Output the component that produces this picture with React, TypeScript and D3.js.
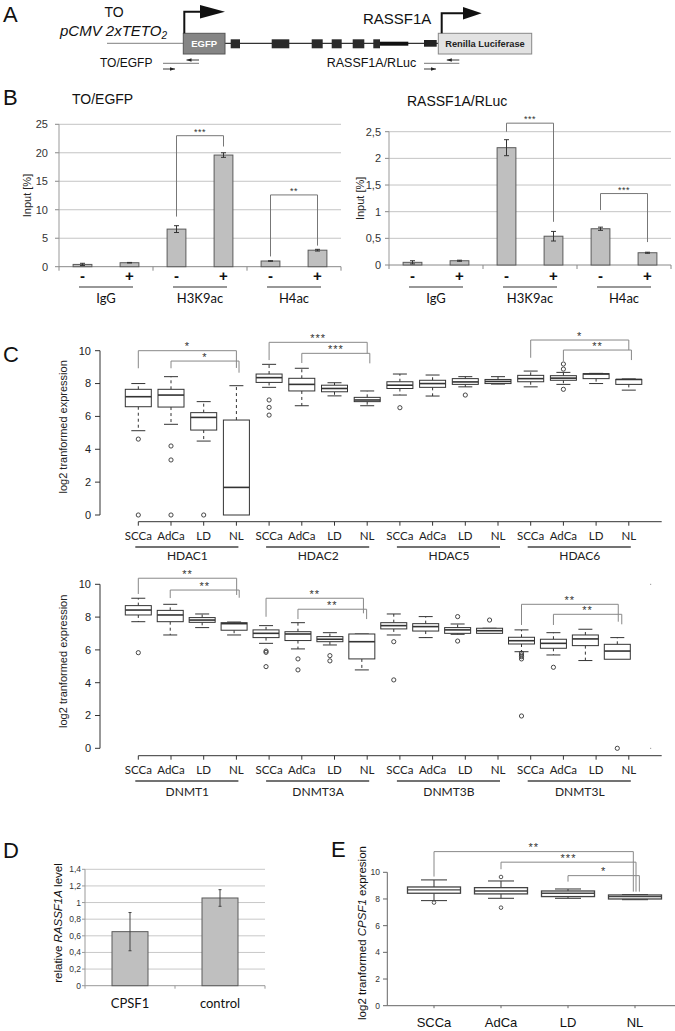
import React from 'react';
import * as d3 from 'd3';

const ARIAL = '"Liberation Sans", Arial, Helvetica, sans-serif';
const CAL = 'Lato, "Open Sans", sans-serif';

// ---------------- Panel B data ----------------
const chipGroups = ['IgG', 'H3K9ac', 'H4ac'];
const chipConds = ['-', '+'];
const egfpMean = [0.4, 0.7, 6.6, 19.6, 1.0, 2.9];
const egfpErr = [0.2, 0.05, 0.6, 0.4, 0.05, 0.15];
const egfpTicks = [0, 5, 10, 15, 20, 25];
const rlucMean = [0.05, 0.08, 2.2, 0.54, 0.68, 0.23];
const rlucErr = [0.03, 0.01, 0.15, 0.09, 0.03, 0.01];
const rlucTicks = [0, 0.5, 1, 1.5, 2, 2.5];

type Bracket = { a: number; b: number; yl: number; yt: number; yr: number; label: string; off?: number };

const egfpBrackets: Bracket[] = [
  { a: 2, b: 3, yl: 8.8, yt: 23.0, yr: 21.1, label: '***' },
  { a: 4, b: 5, yl: 1.8, yt: 12.6, yr: 3.7, label: '**' },
];
const rlucBrackets: Bracket[] = [
  { a: 2, b: 3, yl: 2.5, yt: 2.66, yr: 0.81, label: '***' },
  { a: 4, b: 5, yl: 1.03, yt: 1.34, yr: 0.43, label: '***' },
];

// ---------------- Panel C data ----------------
const subtypes = ['SCCa', 'AdCa', 'LD', 'NL'];
const hdacGenes = ['HDAC1', 'HDAC2', 'HDAC5', 'HDAC6'];
const dnmtGenes = ['DNMT1', 'DNMT3A', 'DNMT3B', 'DNMT3L'];
const exprTicks = [0, 2, 4, 6, 8, 10];
// [lower whisker, Q1, median, Q3, upper whisker]
const hdacStats = [
  [5.13, 6.59, 7.2, 7.65, 8.0],
  [5.52, 6.57, 7.3, 7.65, 8.42],
  [4.5, 5.17, 5.94, 6.23, 6.9],
  [0, 0, 1.68, 5.78, 7.87],
  [7.77, 8.07, 8.36, 8.58, 9.17],
  [6.65, 7.55, 7.95, 8.32, 8.93],
  [7.25, 7.5, 7.7, 7.9, 8.05],
  [6.65, 6.9, 7.0, 7.16, 7.55],
  [7.3, 7.7, 7.9, 8.11, 8.58],
  [7.24, 7.77, 8.0, 8.2, 8.52],
  [7.8, 7.95, 8.1, 8.3, 8.42],
  [7.97, 8.0, 8.13, 8.25, 8.42],
  [7.8, 8.11, 8.3, 8.5, 8.76],
  [7.95, 8.2, 8.33, 8.48, 8.68],
  [8.0, 8.3, 8.58, 8.6, 8.62],
  [7.6, 7.95, 8.25, 8.25, 8.28],
];
const hdacOutliers = [
  [4.62, 0], [4.2, 3.35, 0], [0], [],
  [7.0, 6.55, 6.08], [], [], [],
  [6.53], [], [7.3], [],
  [], [9.19, 8.88, 7.65], [], [],
];
const hdacBrackets: Bracket[] = [
  { a: 0, b: 3, yl: 8.93, yt: 10.0, yr: 8.95, label: '*', off: 0 },
  { a: 1, b: 3, yl: 8.93, yt: 9.37, yr: 8.66, label: '*', off: 0.08 },
  { a: 4, b: 7, yl: 9.43, yt: 10.51, yr: 9.84, label: '***', off: 0 },
  { a: 5, b: 7, yl: 9.25, yt: 9.84, yr: 9.23, label: '***', off: 0.08 },
  { a: 12, b: 15, yl: 9.57, yt: 10.65, yr: 10.04, label: '*', off: 0 },
  { a: 13, b: 15, yl: 9.37, yt: 10.04, yr: 9.43, label: '**', off: 0.08 },
];

const dnmtStats = [
  [7.72, 8.13, 8.43, 8.7, 9.15],
  [6.91, 7.72, 8.13, 8.41, 8.78],
  [7.36, 7.68, 7.82, 7.97, 8.19],
  [6.91, 7.2, 7.6, 7.66, 7.7],
  [6.4, 6.75, 7.01, 7.22, 7.48],
  [6.06, 6.57, 6.97, 7.11, 7.66],
  [6.3, 6.5, 6.65, 6.81, 7.05],
  [4.78, 5.45, 6.5, 6.97, 6.97],
  [6.91, 7.28, 7.48, 7.66, 8.19],
  [6.75, 7.15, 7.42, 7.6, 8.03],
  [6.95, 7.01, 7.22, 7.36, 7.58],
  [7.01, 7.01, 7.17, 7.32, 7.32],
  [5.89, 6.36, 6.56, 6.77, 7.22],
  [5.69, 6.1, 6.4, 6.65, 7.05],
  [5.35, 6.26, 6.67, 6.91, 7.26],
  [5.43, 5.43, 5.93, 6.34, 6.75],
];
const dnmtOutliers = [
  [5.83], [], [], [],
  [5.93, 5.85, 4.98], [5.45, 4.78], [5.65, 5.33], [],
  [6.5, 4.17], [], [8.03, 6.54], [7.82],
  [5.8, 5.69, 5.59, 5.45, 1.97], [4.94], [], [0],
];
const dnmtBrackets: Bracket[] = [
  { a: 0, b: 3, yl: 9.41, yt: 10.37, yr: 9.35, label: '**', off: 0.08 },
  { a: 1, b: 3, yl: 9.16, yt: 9.65, yr: 9.18, label: '**', off: 0.16 },
  { a: 4, b: 7, yl: 8.02, yt: 9.15, yr: 8.23, label: '**', off: 0.05 },
  { a: 5, b: 7, yl: 7.88, yt: 8.48, yr: 7.88, label: '**', off: 0.15 },
  { a: 12, b: 15, yl: 7.52, yt: 8.78, yr: 7.72, label: '**', off: 0.03 },
  { a: 13, b: 15, yl: 7.52, yt: 8.17, yr: 7.56, label: '**', off: 0.14 },
];

// ---------------- Panel D data ----------------
const kdGroups = ['CPSF1', 'control'];
const kdMean = [0.65, 1.055];
const kdErr = [0.23, 0.1];
const kdTicks = [0, 0.2, 0.4, 0.6, 0.8, 1, 1.2, 1.4];

// ---------------- Panel E data ----------------
const cpsfStats = [
  [7.88, 8.43, 8.68, 8.9, 9.43],
  [8.05, 8.38, 8.6, 8.85, 9.35],
  [8.05, 8.18, 8.43, 8.6, 8.75],
  [7.95, 8.0, 8.18, 8.3, 8.33],
];
const cpsfOutliers = [[7.73], [9.65, 7.35], [], []];
const cpsfTicks = [0, 2, 4, 6, 8, 10];
const cpsfBrackets: Bracket[] = [
  { a: 0, b: 3, yl: 9.68, yt: 11.55, yr: 8.55, label: '**', off: -0.025 },
  { a: 1, b: 3, yl: 10.23, yt: 10.76, yr: 8.55, label: '***', off: 0.015 },
  { a: 2, b: 3, yl: 9.3, yt: 9.75, yr: 8.55, label: '*', off: 0.065 },
];

const comma = (v: number) => String(v).replace('.', ',');

// ---------------- Panel A ----------------
function PrimerPair({ x1, x2 }: { x1: number; x2: number }) {
  return (
    <g stroke="#222" strokeWidth={0.9} fill="#222">
      <line x1={x2 - 12.5} x2={x2} y1={60} y2={60} />
      <polygon points={`${x2 - 12.5},60 ${x2 - 7.5},58.3 ${x2 - 7.5},61.7`} strokeWidth={0} />
      <line x1={x1} x2={x2} y1={63.3} y2={63.3} stroke="#666" />
      <line x1={x1} x2={x1 + 12} y1={69} y2={69} />
      <polygon points={`${x1 + 12},69 ${x1 + 7},67.3 ${x1 + 7},70.7`} strokeWidth={0} />
    </g>
  );
}

function PanelA() {
  const exons = [
    [230.7, 240], [271.7, 289.3], [311.7, 322.7], [331.7, 341.7], [352.7, 364.3], [373.3, 380],
  ];
  return (
    <g>
      <text x={3} y={21.5} fontSize={22} fill="#111">A</text>
      <text x={114} y={16.7} fontSize={14} textAnchor="middle" fill="#111">TO</text>
      <text x={60} y={36} fontSize={15} fontStyle="italic" fill="#111">
        pCMV 2xTETO<tspan fontSize={10} dy={3}>2</tspan>
      </text>
      <line x1={107} x2={183.3} y1={43.3} y2={43.3} stroke="#999" strokeWidth={1.3} />
      <line x1={225} x2={438.3} y1={43.3} y2={43.3} stroke="#333" strokeWidth={1.3} />
      {exons.map(([a, b], i) => (
        <rect key={i} x={a} y={39.3} width={b - a} height={9} fill="#2b2b2b" />
      ))}
      <rect x={380} y={41.7} width={28.3} height={4} fill="#111" />
      <rect x={424} y={40} width={12.7} height={6.7} fill="#222" />
      {/* EGFP box */}
      <rect x={183.3} y={33.3} width={41.7} height={20.7} fill="#858585" stroke="#555" strokeWidth={1} />
      <text x={204.2} y={47} fontSize={9.5} fontWeight="bold" fill="#fff" textAnchor="middle">EGFP</text>
      {/* Renilla box */}
      <rect x={438.3} y={33.3} width={93.4} height={20.7} fill="#e2e2e2" stroke="#888" strokeWidth={1} />
      <text x={485} y={47} fontSize={9.3} fontWeight="bold" fill="#222" textAnchor="middle">Renilla Luciferase</text>
      {/* promoters */}
      <polyline points="184.3,33.3 184.3,11.7 201,11.7" fill="none" stroke="#111" strokeWidth={2} />
      <polygon points="200,5 225,11.7 200,18.4" fill="#111" />
      <polyline points="441.7,33.3 441.7,13.3 464,13.3" fill="none" stroke="#111" strokeWidth={2} />
      <polygon points="463,7 481.7,13.3 463,19.6" fill="#111" />
      <text x={363} y={24} fontSize={15} fill="#111">RASSF1A</text>
      <text x={100} y={66.7} fontSize={12} fill="#111">TO/EGFP</text>
      <text x={326.7} y={66.7} fontSize={12.5} fill="#111">RASSF1A/RLuc</text>
      <PrimerPair x1={163} x2={199} />
      <PrimerPair x1={424} x2={459.3} />
    </g>
  );
}

// ---------------- Panel B ----------------
function ChipPanel(props: {
  left: number; right: number; top: number; bottom: number; max: number; ticks: number[];
  means: number[]; errs: number[]; brackets: Bracket[]; title: string; titleX: number; titleY: number;
  yTitleX: number; tickLabelX: number;
}) {
  const { left, right, top, bottom, max, ticks, means, errs, brackets, title, titleX, titleY, yTitleX, tickLabelX } = props;
  const x = d3.scaleBand<string>().domain(chipGroups).range([left, right]);
  const bw = x.bandwidth();
  const sub = d3.scalePoint<string>().domain(chipConds).range([bw * 0.25, bw * 0.75]);
  const y = d3.scaleLinear().domain([0, max]).range([bottom, top]);
  const barW = bw * 0.2;
  const cx = (i: number) => (x(chipGroups[Math.floor(i / 2)]) as number) + (sub(chipConds[i % 2]) as number);
  return (
    <g>
      <text x={titleX} y={titleY} fontSize={14} fill="#111">{title}</text>
      {ticks.map((t) => (
        <g key={t}>
          {t > 0 && <line x1={left} x2={right} y1={y(t)} y2={y(t)} stroke="#c4c4c4" strokeWidth={1} />}
          <line x1={left - 4} x2={left} y1={y(t)} y2={y(t)} stroke="#888" />
          <text x={tickLabelX} y={y(t)} dy="0.35em" fontSize={11} textAnchor="end" fill="#333">{comma(t)}</text>
        </g>
      ))}
      <line x1={left} x2={left} y1={y(max)} y2={y(0)} stroke="#999" />
      <line x1={left} x2={right} y1={y(0)} y2={y(0)} stroke="#888" />
      {[0, 1, 2, 3].map((k) => (
        <line key={k} x1={left + k * bw} x2={left + k * bw} y1={y(0)} y2={y(0) + 4} stroke="#888" />
      ))}
      {means.map((m, i) => (
        <g key={i}>
          <rect x={cx(i) - barW / 2} y={y(m)} width={barW} height={y(0) - y(m)} fill="#bfbfbf" stroke="#5a5a5a" strokeWidth={1} />
          <line x1={cx(i)} x2={cx(i)} y1={y(m + errs[i])} y2={y(Math.max(0, m - errs[i]))} stroke="#333" />
          <line x1={cx(i) - 2.5} x2={cx(i) + 2.5} y1={y(m + errs[i])} y2={y(m + errs[i])} stroke="#333" />
          <line x1={cx(i) - 2.5} x2={cx(i) + 2.5} y1={y(Math.max(0, m - errs[i]))} y2={y(Math.max(0, m - errs[i]))} stroke="#333" />
          <text x={cx(i)} y={281} fontSize={15} fontWeight="bold" textAnchor="middle" fill="#111">{chipConds[i % 2]}</text>
        </g>
      ))}
      {chipGroups.map((g) => {
        const c = (x(g) as number) + bw / 2;
        return (
          <g key={g}>
            <line x1={c - 27} x2={c + 27} y1={287} y2={287} stroke="#333" strokeWidth={1.2} />
            <text x={c} y={303} fontSize={13} fontFamily={CAL} textAnchor="middle" fill="#111">{g}</text>
          </g>
        );
      })}
      {brackets.map((b, i) => {
        const xa = cx(b.a), xb = cx(b.b);
        return (
          <g key={i}>
            <path d={`M${xa},${y(b.yl)}V${y(b.yt)}H${xb}V${y(b.yr)}`} fill="none" stroke="#777" strokeWidth={1} />
            <text x={(xa + xb) / 2} y={y(b.yt) - 1} fontSize={9} textAnchor="middle" fill="#333" letterSpacing={0.5}>{b.label}</text>
          </g>
        );
      })}
      <text transform={`translate(${yTitleX},${(y(0) + y(max)) / 2}) rotate(-90)`} dy="0.35em" fontSize={11} textAnchor="middle" fill="#222">Input [%]</text>
    </g>
  );
}

// ---------------- Panel C ----------------
function BoxPanel(props: {
  genes: string[]; stats: number[][]; outliers: number[][]; brackets: Bracket[];
  yBottom: number; yTop: number; axisY: number; labelY: number; underlineY: number; geneY: number;
  boxRange: [number, number]; titleShift: number; dots?: boolean;
}) {
  const { genes, stats, outliers, brackets, yBottom, yTop, axisY, labelY, underlineY, geneY, boxRange, titleShift } = props;
  const y = d3.scaleLinear().domain([0, 10]).range([yBottom, yTop]);
  const tx = d3.scaleLinear().domain([0, 15]).range([138.3, 628.8]);
  const bx = d3.scaleLinear().domain([0, 15]).range(boxRange);
  const hw = 13, cw = 7;
  const idx = d3.range(16);
  return (
    <g>
      <line x1={100} x2={100} y1={y(0)} y2={y(10)} stroke="#333" />
      {exprTicks.map((t) => (
        <g key={t}>
          <line x1={95} x2={100} y1={y(t)} y2={y(t)} stroke="#333" />
          <text x={91} y={y(t)} dy="0.35em" fontSize={11} textAnchor="end" fill="#222">{t}</text>
        </g>
      ))}
      <text transform={`translate(63,${(y(0) + y(10)) / 2 + titleShift}) rotate(-90)`} dy="0.35em" fontSize={11} textAnchor="middle" fill="#222">log2 tranformed expression</text>
      <line x1={tx(0)} x2={661.7} y1={axisY} y2={axisY} stroke="#333" />
      {idx.map((i) => (
        <g key={i}>
          <line x1={tx(i)} x2={tx(i)} y1={axisY} y2={axisY + 4} stroke="#333" />
          <text x={tx(i)} y={labelY} fontSize={11.5} fontFamily={CAL} textAnchor="middle" fill="#222">{subtypes[i % 4]}</text>
        </g>
      ))}
      {genes.map((g, k) => (
        <g key={g}>
          <line x1={tx(k * 4) - 3} x2={tx(k * 4 + 3) + 2} y1={underlineY} y2={underlineY} stroke="#444" strokeWidth={1.3} />
          <text x={(tx(k * 4) + tx(k * 4 + 3)) / 2} y={geneY} fontSize={12} fontFamily={CAL} textAnchor="middle" fill="#222">{g}</text>
        </g>
      ))}
      {stats.map((s, i) => {
        const c = bx(i);
        const [lo, q1, md, q3, hi] = s;
        return (
          <g key={i} stroke="#333" fill="none">
            {hi > q3 && <line x1={c} x2={c} y1={y(q3)} y2={y(hi)} strokeDasharray="3,3" />}
            {lo < q1 && <line x1={c} x2={c} y1={y(q1)} y2={y(lo)} strokeDasharray="3,3" />}
            <line x1={c - cw} x2={c + cw} y1={y(hi)} y2={y(hi)} />
            {lo < q1 && <line x1={c - cw} x2={c + cw} y1={y(lo)} y2={y(lo)} />}
            <rect x={c - hw} y={y(q3)} width={hw * 2} height={Math.max(0.5, y(q1) - y(q3))} fill="#fff" />
            <line x1={c - hw} x2={c + hw} y1={y(md)} y2={y(md)} strokeWidth={1.6} />
            {outliers[i].map((o, j) => (
              <circle key={j} cx={c} cy={y(o)} r={2.1} strokeWidth={0.9} />
            ))}
          </g>
        );
      })}
      {brackets.map((b, i) => {
        const xa = bx(b.a), xb = bx(b.b + (b.off || 0));
        return (
          <g key={i}>
            <path d={`M${xa},${y(b.yl)}V${y(b.yt)}H${xb}V${y(b.yr)}`} fill="none" stroke="#888" strokeWidth={1} />
            <text x={(xa + xb) / 2} y={y(b.yt) - 0.5} fontSize={11} textAnchor="middle" fill="#333" letterSpacing={1}>{b.label}</text>
          </g>
        );
      })}
      {props.dots && (
        <g fill="#aaa">
          <rect x={650} y={y(10) - 0.5} width={1.2} height={1.2} />
          <rect x={650} y={y(0) - 0.5} width={1.2} height={1.2} />
        </g>
      )}
    </g>
  );
}

// ---------------- Panel D ----------------
function PanelD() {
  const left = 85, right = 265;
  const x = d3.scaleBand<string>().domain(kdGroups).range([left, right]);
  const bw = x.bandwidth();
  const y = d3.scaleLinear().domain([0, 1.4]).range([985.7, 869.3]);
  const barW = bw * 0.4;
  return (
    <g>
      <text x={3} y={858} fontSize={22} fill="#111">D</text>
      {kdTicks.map((t) => (
        <g key={t}>
          {t > 0 && <line x1={left} x2={right} y1={y(t)} y2={y(t)} stroke="#c8c8c8" />}
          <line x1={left - 3} x2={left} y1={y(t)} y2={y(t)} stroke="#999" />
          <text x={81} y={y(t)} dy="0.35em" fontSize={8.5} textAnchor="end" fill="#333">{comma(t)}</text>
        </g>
      ))}
      <line x1={left} x2={left} y1={y(1.4)} y2={y(0)} stroke="#999" />
      <line x1={left} x2={right} y1={y(0)} y2={y(0)} stroke="#999" />
      {[0, 1, 2].map((k) => (
        <line key={k} x1={left + k * bw} x2={left + k * bw} y1={y(0)} y2={y(0) + 3} stroke="#999" />
      ))}
      {kdGroups.map((g, i) => {
        const c = (x(g) as number) + bw / 2;
        const m = kdMean[i], e = kdErr[i];
        return (
          <g key={g}>
            <rect x={c - barW / 2} y={y(m)} width={barW} height={y(0) - y(m)} fill="#bfbfbf" stroke="#5a5a5a" />
            <line x1={c} x2={c} y1={y(m + e)} y2={y(m - e)} stroke="#444" />
            <line x1={c - 1.5} x2={c + 1.5} y1={y(m + e)} y2={y(m + e)} stroke="#444" />
            <line x1={c - 1.5} x2={c + 1.5} y1={y(m - e)} y2={y(m - e)} stroke="#444" />
            <text x={c} y={1008} fontSize={13} fontFamily={CAL} textAnchor="middle" fill="#111">{g}</text>
          </g>
        );
      })}
      <text transform={`translate(58,${923}) rotate(-90)`} dy="0.35em" fontSize={11.5} textAnchor="middle" fill="#111">
        relative <tspan fontStyle="italic">RASSF1A</tspan> level
      </text>
    </g>
  );
}

// ---------------- Panel E ----------------
function PanelE() {
  const x = d3.scalePoint<string>().domain(subtypes).range([434, 635]);
  const xi = d3.scaleLinear().domain([0, 3]).range([434, 635]);
  const y = d3.scaleLinear().domain([0, 10]).range([1005.7, 872.3]);
  const hw = 26.5, cw = 13;
  return (
    <g>
      <text x={331} y={857} fontSize={22} fill="#111">E</text>
      <line x1={387.3} x2={387.3} y1={y(0)} y2={y(10)} stroke="#666" />
      {cpsfTicks.map((t) => (
        <g key={t}>
          <line x1={383} x2={387.3} y1={y(t)} y2={y(t)} stroke="#666" />
          <text x={380} y={y(t)} dy="0.35em" fontSize={8.5} textAnchor="end" fill="#333">{t}</text>
        </g>
      ))}
      <line x1={387.3} x2={675} y1={y(0)} y2={y(0)} stroke="#666" />
      {subtypes.map((s, i) => {
        const c = x(s) as number;
        const [lo, q1, md, q3, hi] = cpsfStats[i];
        return (
          <g key={s}>
            <line x1={c} x2={c} y1={y(0)} y2={y(0) + 2.5} stroke="#666" />
            <text x={c} y={1027} fontSize={13} textAnchor="middle" fill="#111">{s}</text>
            <g stroke="#444" fill="none" strokeWidth={1.1}>
              <line x1={c} x2={c} y1={y(q3)} y2={y(hi)} />
              <line x1={c} x2={c} y1={y(q1)} y2={y(lo)} />
              <line x1={c - cw} x2={c + cw} y1={y(hi)} y2={y(hi)} />
              <line x1={c - cw} x2={c + cw} y1={y(lo)} y2={y(lo)} />
              <rect x={c - hw} y={y(q3)} width={hw * 2} height={y(q1) - y(q3)} fill="#fff" strokeWidth={1.3} />
              <line x1={c - hw} x2={c + hw} y1={y(md)} y2={y(md)} strokeWidth={1.3} />
              {cpsfOutliers[i].map((o, j) => (
                <circle key={j} cx={c} cy={y(o)} r={1.8} strokeWidth={0.9} />
              ))}
            </g>
          </g>
        );
      })}
      {cpsfBrackets.map((b, i) => {
        const xa = xi(b.a), xb = xi(b.b + (b.off || 0));
        return (
          <g key={i}>
            <path d={`M${xa},${y(b.yl)}V${y(b.yt)}H${xb}V${y(b.yr)}`} fill="none" stroke="#888" strokeWidth={1} />
            <text x={(xa + xb) / 2} y={y(b.yt) - 0.5} fontSize={11} textAnchor="middle" fill="#333" letterSpacing={1}>{b.label}</text>
          </g>
        );
      })}
      <text transform={`translate(361.7,933) rotate(-90)`} dy="0.35em" fontSize={11.5} textAnchor="middle" fill="#111">
        log2 tranformed <tspan fontStyle="italic">CPSF1</tspan> expresion
      </text>
    </g>
  );
}

export default function App() {
  return (
    <svg
      width={675}
      height={1031}
      viewBox="0 0 675 1031"
      style={{ position: 'absolute', left: 0, top: 0, display: 'block', background: '#fff' }}
      fontFamily={ARIAL}
    >
      <rect width={675} height={1031} fill="#fff" />
      <PanelA />
      <text x={3} y={105} fontSize={22} fill="#111">B</text>
      <ChipPanel
        left={59} right={341} top={124.3} bottom={266.7} max={25} ticks={egfpTicks}
        means={egfpMean} errs={egfpErr} brackets={egfpBrackets}
        title="TO/EGFP" titleX={72} titleY={104} yTitleX={27} tickLabelX={48}
      />
      <ChipPanel
        left={389} right={671} top={131.7} bottom={265} max={2.5} ticks={rlucTicks}
        means={rlucMean} errs={rlucErr} brackets={rlucBrackets}
        title="RASSF1A/RLuc" titleX={407} titleY={106} yTitleX={360} tickLabelX={381}
      />
      <text x={3} y={362} fontSize={22} fill="#111">C</text>
      <BoxPanel
        genes={hdacGenes} stats={hdacStats} outliers={hdacOutliers} brackets={hdacBrackets}
        yBottom={515} yTop={350.7} axisY={521.7} labelY={539.5} underlineY={547} geneY={560}
        boxRange={[138.3, 628.8]} titleShift={-6}
      />
      <BoxPanel
        genes={dnmtGenes} stats={dnmtStats} outliers={dnmtOutliers} brackets={dnmtBrackets}
        yBottom={748.3} yTop={584.3} axisY={755.7} labelY={774} underlineY={781} geneY={795.5}
        boxRange={[138.3, 617.3]} titleShift={-5} dots
      />
      <PanelD />
      <PanelE />
    </svg>
  );
}
